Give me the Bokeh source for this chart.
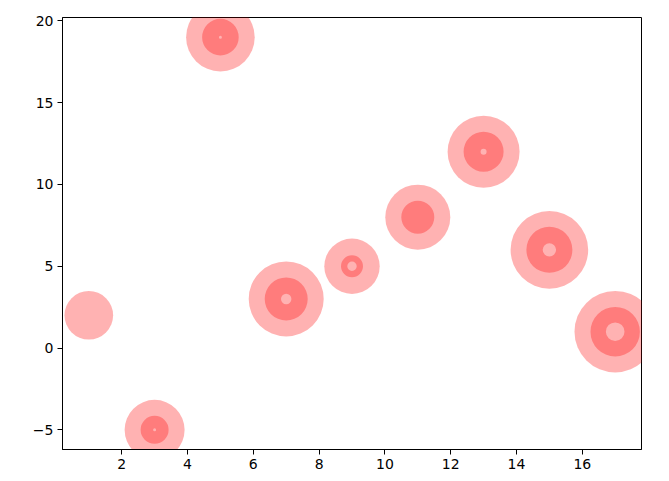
from bokeh.plotting import figure
from bokeh.models import FixedTicker, Range1d, ColumnDataSource
from bokeh.embed import file_html
from bokeh.resources import INLINE

# data
xs = [1, 3, 5, 7, 9, 11, 13, 15, 17]
ys = [2, -5, 19, 3, 5, 8, 12, 6, 1]
# bubble radii (screen pixels)
outer_r = [24.3, 30, 34.3, 37.5, 27.7, 32.5, 36, 38.8, 40.7]
ring_outer_r = [8, 14, 18.3, 21.5, 11, 16.5, 20, 23, 24.7]
ring_inner_r = [8, 1.5, 1.5, 5.2, 4.7, 0, 3, 6.7, 9.3]

x_ticks = [2, 4, 6, 8, 10, 12, 14, 16]
y_ticks = [-5, 0, 5, 10, 15, 20]

src = ColumnDataSource(dict(x=xs, y=ys, d=[2 * r for r in outer_r],
                            ro=ring_outer_r, ri=ring_inner_r))

p = figure(width=661, height=473, output_backend="svg", toolbar_location=None,
           x_range=Range1d(0.2, 17.8), y_range=Range1d(-6.2, 20.2),
           min_border_left=62, min_border_right=20, min_border_top=17, min_border_bottom=24)

p.scatter("x", "y", size="d", source=src, fill_color="red", fill_alpha=0.3, line_color=None)
p.annulus("x", "y", inner_radius="ri", outer_radius="ro", source=src,
          inner_radius_units="screen", outer_radius_units="screen",
          fill_color="red", fill_alpha=0.3, line_color=None)

p.grid.visible = False
p.outline_line_color = "black"
p.outline_line_width = 1
p.background_fill_color = "white"
p.border_fill_color = "white"

p.xaxis.ticker = FixedTicker(ticks=x_ticks)
p.yaxis.ticker = FixedTicker(ticks=y_ticks)
p.yaxis.major_label_overrides = {v: str(v).replace("-", "\u2212") for v in y_ticks}

for ax in (p.xaxis[0], p.yaxis[0]):
    ax.axis_line_color = "black"
    ax.axis_line_width = 1
    ax.major_tick_line_color = "black"
    ax.major_tick_out = 5
    ax.major_tick_in = 0
    ax.minor_tick_line_color = None
    ax.major_label_text_font = "DejaVu Sans"
    ax.major_label_text_font_size = "14px"
    ax.major_label_text_color = "black"
    ax.major_label_standoff = 4

open("out.html", "w").write(file_html(p, INLINE))
